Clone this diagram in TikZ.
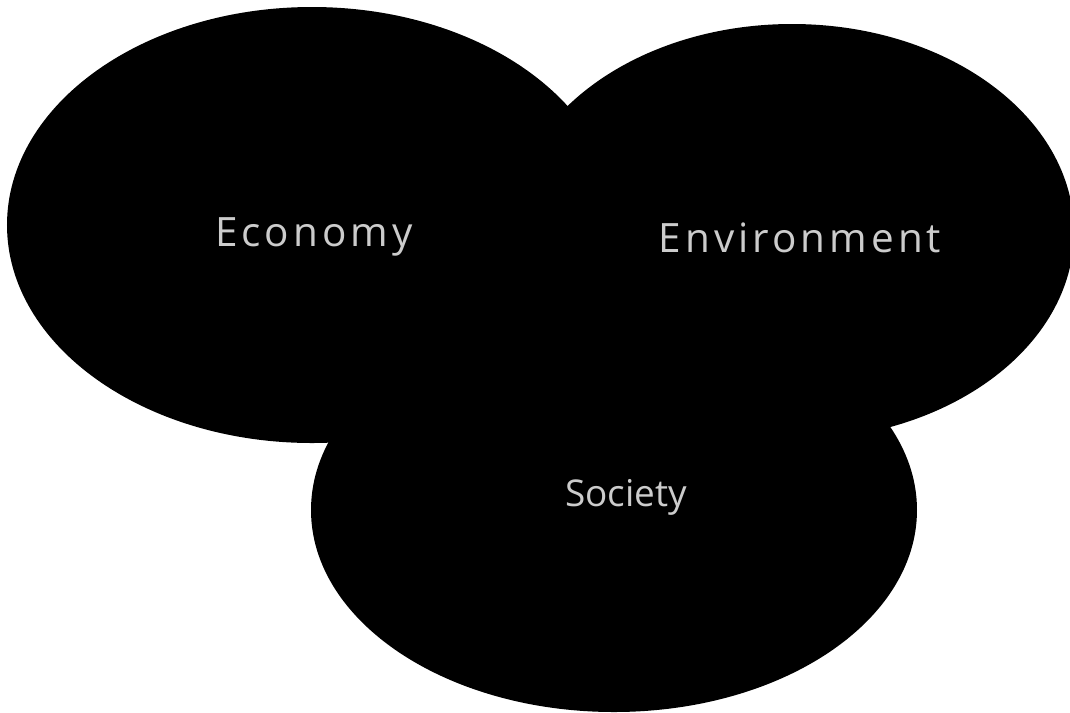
\documentclass[tikz,border=0pt]{standalone}
\usepackage{fontspec}
\usepackage{tikz}
\usetikzlibrary{positioning}
\newfontfamily\pillarfont{Open Sans}
\newfontfamily\pillarwide{Open Sans}[LetterSpace=10]

\begin{document}
\begin{tikzpicture}[pillar/.style={text=gray!40, font=\fontsize{11.5}{13}\selectfont}]
    \useasboundingbox (0,0) rectangle (10.70,-7.12);
    % the three overlapping areas
    \fill[black] (3.12,-2.25) ellipse [x radius=3.05cm, y radius=2.18cm];
    \fill[black] (7.92,-2.32) ellipse [x radius=2.82cm, y radius=2.08cm];
    \fill[black] (6.14,-5.10) ellipse [x radius=3.03cm, y radius=2.02cm];
    \node[pillar] (eco) at (3.14,-2.37) {\pillarwide Economy};
    \node[pillar] (env) at (8.00,-2.38) {\pillarwide Environment};
    \node[pillar, font=\fontsize{10.5}{12}\selectfont] (soc) at (6.26,-4.97) {\pillarfont Society};
\end{tikzpicture}
\end{document}
